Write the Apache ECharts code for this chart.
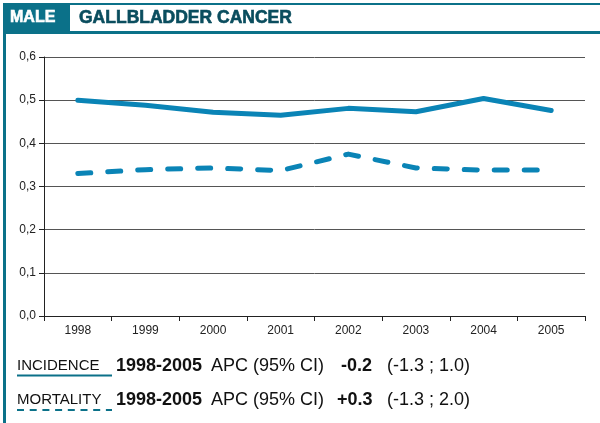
<!DOCTYPE html>
<html><head><meta charset="utf-8">
<script src="https://cdn.jsdelivr.net/npm/echarts@6/dist/echarts.min.js"></script>
<style>html,body{margin:0;padding:0;background:#fff}#c{width:600px;height:423px}</style>
</head><body><div id="c"></div>
<script>
var years = ['1998','1999','2000','2001','2002','2003','2004','2005'];
var incidence = [0.500, 0.488, 0.472, 0.465, 0.481, 0.473, 0.504, 0.476];
var mortality = [0.330, 0.339, 0.343, 0.337, 0.375, 0.343, 0.338, 0.338];
var yTicks = [0, 0.1, 0.2, 0.3, 0.4, 0.5, 0.6];

var teal = '#0b7189';
var lineColor = '#0a84b6';
var F = '"Liberation Sans", Arial, sans-serif';
var chart = echarts.init(document.getElementById('c'), null, {renderer:'canvas'});
chart.setOption({
  animation:false,
  grid:{left:44, right:15, top:57, bottom:107, containLabel:false},
  xAxis:{type:'category', data:years, boundaryGap:true,
    axisLine:{lineStyle:{color:'#222', width:1}},
    axisTick:{show:true, length:5, lineStyle:{color:'#222'}},
    axisLabel:{color:'#222', fontSize:12, fontFamily:F, margin:9}},
  yAxis:{type:'value', min:0, max:0.6, interval:0.1,
    axisLine:{show:true, lineStyle:{color:'#222', width:1}},
    axisTick:{show:true, length:5, lineStyle:{color:'#222'}},
    splitLine:{lineStyle:{color:'#555', width:1}},
    axisLabel:{color:'#222', fontSize:12, fontFamily:F, margin:8,
      formatter:function(v){return v.toFixed(1).replace('.', ',');}}},
  series:[
    {name:'INCIDENCE', type:'line', data:incidence, symbol:'none',
     lineStyle:{color:lineColor, width:5, cap:'round', join:'round'}},
    {name:'MORTALITY', type:'line', data:mortality, symbol:'none',
     lineStyle:{color:lineColor, width:5, type:[13,17], cap:'round', join:'round'}}
  ],
  graphic:[
    {type:'rect', shape:{x:3, y:3, width:597, height:2}, style:{fill:teal}},
    {type:'rect', shape:{x:3, y:3, width:67, height:30}, style:{fill:teal}},
    {type:'rect', shape:{x:3, y:31, width:597, height:3}, style:{fill:teal}},
    {type:'rect', shape:{x:3, y:3, width:3, height:420}, style:{fill:teal}},
    {type:'text', x:10, y:18, style:{text:'MALE', fill:'#fff', stroke:'#fff', lineWidth:0.6, font:'bold 16px '+F, verticalAlign:'middle'}},
    {type:'text', x:79, y:18, style:{text:'GALLBLADDER CANCER', fill:'#0a4d5e', stroke:'#0a4d5e', lineWidth:0.6, font:'bold 17.5px '+F, verticalAlign:'middle'}},

    {type:'text', x:17, y:366, style:{text:'INCIDENCE', fill:'#111', font:'15px '+F, verticalAlign:'middle'}},
    {type:'line', shape:{x1:17, y1:375.5, x2:112, y2:375.5}, style:{stroke:teal, lineWidth:2}},
    {type:'text', x:116, y:366, style:{text:'1998-2005', fill:'#111', font:'bold 18px '+F, verticalAlign:'middle'}},
    {type:'text', x:211, y:366, style:{text:'APC (95% CI)', fill:'#111', font:'18px '+F, verticalAlign:'middle'}},
    {type:'text', x:341, y:366, style:{text:'-0.2', fill:'#111', font:'bold 18px '+F, verticalAlign:'middle'}},
    {type:'text', x:387, y:366, style:{text:'(-1.3 ; 1.0)', fill:'#111', font:'18px '+F, verticalAlign:'middle'}},

    {type:'text', x:17, y:400, style:{text:'MORTALITY', fill:'#111', font:'15px '+F, verticalAlign:'middle'}},
    {type:'line', shape:{x1:17, y1:410, x2:112, y2:410}, style:{stroke:teal, lineWidth:2, lineDash:[7,5.7]}},
    {type:'text', x:116, y:400, style:{text:'1998-2005', fill:'#111', font:'bold 18px '+F, verticalAlign:'middle'}},
    {type:'text', x:211, y:400, style:{text:'APC (95% CI)', fill:'#111', font:'18px '+F, verticalAlign:'middle'}},
    {type:'text', x:337, y:400, style:{text:'+0.3', fill:'#111', font:'bold 18px '+F, verticalAlign:'middle'}},
    {type:'text', x:387, y:400, style:{text:'(-1.3 ; 2.0)', fill:'#111', font:'18px '+F, verticalAlign:'middle'}}
  ]
});
</script></body></html>
